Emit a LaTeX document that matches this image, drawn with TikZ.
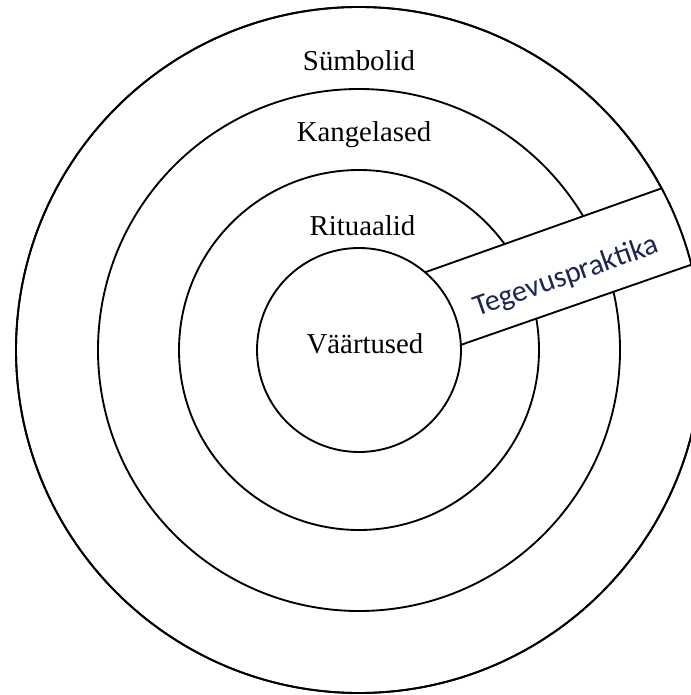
\documentclass[tikz,border=0pt]{standalone}
\usepackage{fontspec}
\setmainfont{Liberation Serif}
\newfontfamily\bandfont{Carlito}
\definecolor{bandblue}{RGB}{28,38,80}

\begin{document}
\begin{tikzpicture}[x=0.75pt,y=0.75pt,yscale=-1,xscale=1,
	ring/.style={draw=black,line width=1.4pt},
	lbl/.style={anchor=base,inner sep=0.75pt,font=\fontsize{21.6}{24}\selectfont}]

	\useasboundingbox (0,0) rectangle (691,695);
	\clip (0,0) rectangle (691,695);

	%%RINGS---------------------------------------------
	\coordinate (c) at (359,350);
	%outer
	\draw [ring] (c) circle [radius=343];
	%second
	\draw [ring] (c) circle [radius=261];
	%third
	\draw [ring] (c) circle [radius=180];

	%%BAND----------------------------------------------
	\begin{scope}
		\clip (c) circle [radius=343];
		\filldraw [fill=white, ring] (400,281.2) -- (720,167.6) -- (720,254.7) -- (420,359.1) -- cycle;
	\end{scope}

	%inner circle on top of band
	\filldraw [fill=white, ring] (c) circle [radius=102];
	%outer again
	\draw [ring] (c) circle [radius=343];

	% Text Node
	\node [lbl] (sym) at (359,70.7) {Sümbolid};
	% Text Node
	\node [lbl] (kang) at (364,141.5) {Kangelased};
	% Text Node
	\node [lbl] (rit) at (362.5,235) {Rituaalid};
	% Text Node
	\node [lbl] (vaar) at (365,353.3) {Väärtused};
	% Text Node
	\node [rotate=19.5, inner sep=0.75pt, text=bandblue, font=\bandfont\fontsize{22.5}{24}\selectfont] (teg) at (566,277) {Tegevuspraktika};

\end{tikzpicture}
\end{document}
